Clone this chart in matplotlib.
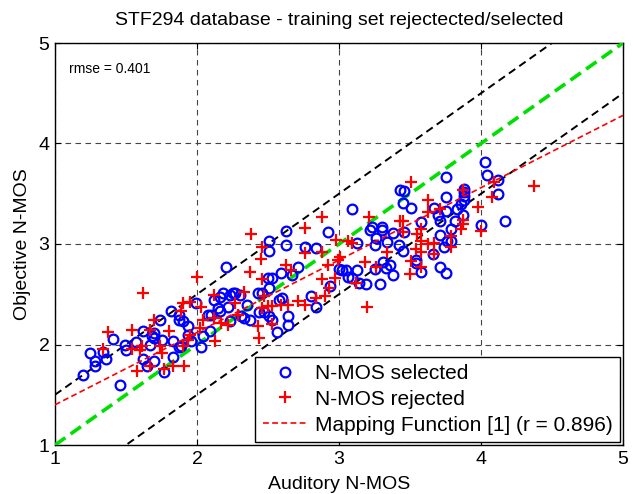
import matplotlib
matplotlib.use("Agg")
import matplotlib.pyplot as plt
import numpy as np

plt.rcParams['font.family'] = ['Liberation Sans', 'DejaVu Sans']

# N-MOS selected (circles)
sel_x = [2.205, 1.20, 1.46, 1.245, 1.28, 1.285, 1.36, 1.34, 1.41, 1.49, 1.50, 1.57, 1.62, 1.67, 1.68, 1.70, 1.70,
         1.75, 1.74, 1.62, 1.70, 1.65, 1.77, 1.83, 1.82, 1.87, 1.87, 1.90, 1.94, 1.94, 1.89, 1.87, 1.83, 1.96,
         1.99, 2.03, 2.04, 2.09, 2.10, 2.12, 2.15, 2.16, 2.18, 2.22, 2.23, 2.25, 2.27, 2.30, 2.31, 2.33, 2.35,
         2.37, 2.23, 2.16, 2.08,
         2.63, 2.51, 2.51, 2.63, 2.76, 2.84, 2.92, 3.09, 2.50, 2.53, 2.59, 2.71, 2.67, 2.51, 2.60, 2.58, 2.46,
         2.43, 2.47, 2.44, 2.51, 2.53, 2.64, 2.64, 2.56, 2.80, 2.84, 2.94, 3.00, 3.02, 3.05, 3.06, 3.13, 3.09,
         3.14, 3.19, 3.25, 3.29, 3.33, 3.31, 3.36, 3.38, 3.13, 3.23, 3.30, 3.30, 3.38, 3.25, 3.34, 3.42, 3.43,
         3.22, 3.26,
         3.75, 3.46, 3.45, 3.51, 3.75, 3.88, 3.88, 3.88, 3.88, 3.86, 4.03, 4.04, 4.12, 4.12, 4.17, 4.00, 3.67,
         3.70, 3.75, 3.83, 3.87, 3.82, 3.71, 3.58, 3.79, 3.71, 3.76, 3.79, 3.74, 3.66, 3.54, 3.54, 3.58, 3.71,
         3.75, 3.46, 3.45]
sel_y = [2.77, 1.695, 1.60, 1.92, 1.84, 1.785, 1.86, 1.93, 2.05, 2.00, 1.95, 2.02, 2.13, 2.00, 2.08, 2.11, 2.06,
         2.04, 2.24, 1.86, 1.84, 1.79, 1.73, 1.88, 2.33, 2.29, 2.24, 2.23, 2.18, 2.09, 1.99, 1.98, 2.03, 2.03,
         2.41, 1.98, 2.08, 2.13, 2.29, 2.44, 2.36, 2.47, 2.51, 2.37, 2.49, 2.51, 2.51, 2.49, 2.28, 2.26, 2.39,
         2.24, 2.23, 2.33, 2.29,
         3.13, 3.03, 2.93, 2.99, 2.97, 2.96, 3.12, 3.35, 2.66, 2.66, 2.71, 2.77, 2.69, 2.56, 2.46, 2.44, 2.51,
         2.51, 2.32, 2.32, 2.28, 2.24, 2.28, 2.19, 2.12, 2.48, 2.37, 2.58, 2.75, 2.74, 2.74, 2.67, 2.74, 2.66,
         2.61, 2.60, 2.75, 2.60, 2.76, 2.82, 2.79, 2.69, 3.01, 3.17, 3.17, 3.14, 3.11, 2.99, 3.02, 2.99, 3.54,
         3.14, 3.06,
         3.67, 3.53, 3.41, 3.36, 3.47, 3.55, 3.52, 3.48, 3.44, 3.40, 3.82, 3.69, 3.64, 3.50, 3.23, 3.19, 3.36,
         3.29, 3.33, 3.35, 3.29, 3.23, 3.23, 3.22, 3.15, 3.09, 3.03, 3.03, 2.97, 2.90, 2.84, 2.81, 2.72, 2.77,
         2.71, 3.12, 2.93]

# N-MOS rejected (pluses)
rej_x = [1.62, 2.00, 2.37, 1.37, 1.34, 1.54, 1.54, 1.60, 1.61, 1.70, 1.67, 1.80, 1.74, 1.75, 1.58, 1.67, 1.83,
         1.91, 1.77, 1.90, 1.95, 1.89, 2.03, 2.04, 2.02, 1.95, 1.94, 1.90, 2.12, 2.12, 2.13, 2.22, 2.27, 2.33,
         2.29, 2.17,
         2.38, 2.46, 2.45, 2.46, 2.47, 2.50, 2.46, 2.53, 2.59, 2.64, 2.71, 2.76, 2.84, 2.90, 2.53, 2.43, 2.44,
         2.63, 2.66, 2.76, 2.76, 2.88, 2.88, 2.92, 2.88, 2.93, 2.98, 2.97, 2.99, 3.01, 3.06, 3.09, 3.18, 3.21,
         3.26, 3.34, 3.20,
         3.51, 3.63, 3.63, 3.71, 3.87, 3.98, 4.08, 4.09, 4.37, 4.00, 3.87, 3.87, 3.86, 3.79, 3.79, 3.67, 3.67,
         3.63, 3.58, 3.55, 3.58, 3.54, 3.58, 3.51, 3.58, 3.50, 3.45, 3.43, 3.45, 3.12]
rej_y = [2.51, 2.67, 2.72, 2.12, 1.96, 2.14, 1.96, 1.95, 1.99, 2.24, 2.14, 2.13, 1.99, 1.92, 1.74, 1.79, 1.79,
         1.79, 1.76, 2.41, 2.42, 2.33, 2.37, 2.24, 2.16, 2.09, 2.04, 1.99, 2.49, 2.26, 2.03, 2.19, 2.41, 2.52,
         2.29, 2.21,
         3.10, 2.97, 2.85, 2.65, 2.48, 2.38, 2.36, 2.38, 2.39, 2.39, 2.43, 2.39, 2.46, 2.48, 2.20, 2.18, 2.06,
         2.79, 2.74, 3.16, 2.91, 3.27, 2.92, 2.79, 2.65, 2.56, 3.04, 2.66, 2.84, 2.87, 3.03, 3.01, 2.82, 3.27,
         2.77, 2.92, 2.37,
         3.62, 3.44, 3.32, 3.35, 3.54, 3.37, 3.47, 3.62, 3.58, 3.13, 3.24, 3.20, 3.15, 3.08, 2.97, 3.01, 2.90,
         3.00, 3.15, 3.10, 3.03, 2.95, 2.92, 2.83, 2.77, 2.70, 3.23, 3.23, 3.12, 2.61]

# mapping function (linear) parameters and reference lines
map_slope = 0.72
map_intercept = 0.68
band_offsets = [0.5, -0.5]
rmse_value = 0.401
r_value = 0.896
x_ticks = [1, 2, 3, 4, 5]
y_ticks = [1, 2, 3, 4, 5]

fig = plt.figure(figsize=(6.33, 4.94), dpi=100)
ax = fig.add_axes([55/633, 49/494, 568/633, 402/494])

xx = np.array([1.0, 5.0])
for off in band_offsets:
    ax.plot(xx, xx + off, color='black', linestyle=(0, (4, 2.5)), linewidth=1.4, zorder=3)
ax.plot(xx, xx, color='#00e000', linestyle=(0, (3.5, 1.8)), linewidth=2.6, zorder=4)

ax.plot(sel_x, sel_y, linestyle='none', marker='o', markersize=7, markerfacecolor='none',
        markeredgecolor='#0000ff', markeredgewidth=1.6, label='N-MOS selected', zorder=5)
ax.plot(rej_x, rej_y, linestyle='none', marker='+', markersize=8, color='#ff0000',
        markeredgewidth=1.6, label='N-MOS rejected', zorder=5)
ax.plot(xx, map_slope * xx + map_intercept, color='#ff0000', linestyle=(0, (3.5, 2)), linewidth=1.2,
        label='Mapping Function [1] (r = %.3f)' % r_value, zorder=6)

ax.set_xlim(1, 5)
ax.set_ylim(1, 5)
ax.set_xticks(x_ticks)
ax.set_yticks(y_ticks)
ax.tick_params(direction='in', length=4, labelsize=14, top=True, right=True, pad=4)
ax.grid(True, color='#444444', linestyle=(0, (5, 4)), linewidth=0.8)
for s in ax.spines.values():
    s.set_linewidth(1.0)

ax.set_title('STF294 database - training set rejectected/selected', fontsize=14, pad=13)
ax.set_xlabel('Auditory N-MOS', fontsize=14, labelpad=6)
ax.set_ylabel('Objective N-MOS', fontsize=14, labelpad=5)
ax.text(0.025, 0.935, 'rmse = %.3f' % rmse_value, transform=ax.transAxes, fontsize=10, va='center')

leg = ax.legend(loc='lower right', fontsize=15, frameon=True, fancybox=False, edgecolor='black',
                framealpha=1, borderaxespad=0.15, handlelength=2.1, handletextpad=0.4,
                borderpad=0.35, labelspacing=0.33)
leg.get_frame().set_linewidth(1.0)

fig.savefig('out.png', dpi=100)
